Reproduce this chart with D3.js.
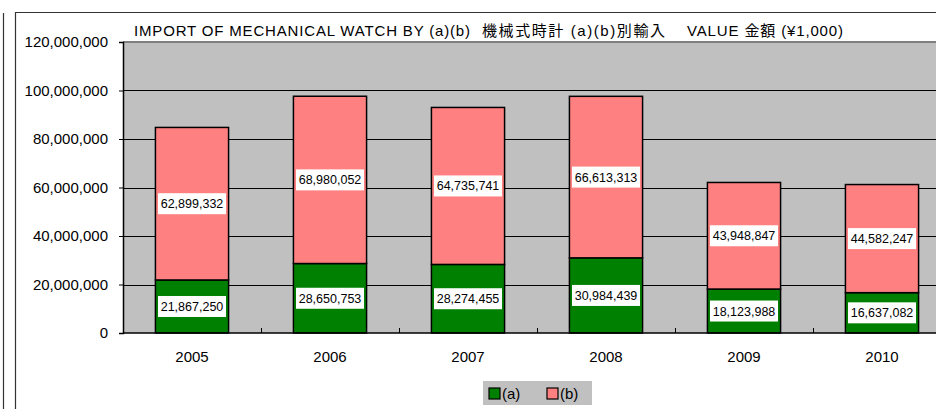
<!DOCTYPE html>
<html>
<head>
<meta charset="utf-8">
<script src="https://cdn.jsdelivr.net/npm/d3@7"></script>
<style>
  body { margin: 0; background: #fff; }
  svg { display: block; }
  text { font-family: 'Liberation Sans', Arial, 'Noto Sans CJK JP', sans-serif; fill: #000; }
</style>
</head>
<body>
<div id="chart"></div>
<script>
// data
var years = ['2005', '2006', '2007', '2008', '2009', '2010']
var valuesA = [21867250, 28650753, 28274455, 30984439, 18123988, 16637082]
var valuesB = [62899332, 68980052, 64735741, 66613313, 43948847, 44582247]
var yTicks = [0, 20000000, 40000000, 60000000, 80000000, 100000000, 120000000]
var seriesNames = ['(a)', '(b)']
var titleParts = ['IMPORT OF MECHANICAL WATCH BY (a)(b)', '機械式時計 (a)(b)別輸入', 'VALUE 金額 (¥1,000)']

var fullW = 936
var fullH = 409
var margin = { top: 42, left: 123, right: -15, bottom: 76 }
var width = fullW - margin.left - margin.right
var height = fullH - margin.top - margin.bottom

var colors = { '(a)': '#008000', '(b)': '#ff8080' }

var svg = d3.select('#chart')
  .append('svg')
  .attr('width', fullW)
  .attr('height', fullH)

// outer frames
svg.append('line')
  .attr('x1', 3.5).attr('x2', 3.5).attr('y1', 13).attr('y2', fullH)
  .attr('stroke', '#333').attr('stroke-width', 1.2)
svg.append('path')
  .attr('d', 'M15.5,' + fullH + 'V12.5H' + fullW)
  .attr('fill', 'none').attr('stroke', '#333').attr('stroke-width', 1.2)

var g = svg.append('g')
  .attr('transform', 'translate(' + margin.left + ',' + margin.top + ')')

var xPositionScale = d3.scaleBand()
  .domain(years)
  .range([0, width])
  .paddingInner(0.47)
  .paddingOuter(0.235)

var yPositionScale = d3.scaleLinear()
  .domain([0, 120000000])
  .range([height, 0])

// plot background
g.append('rect')
  .attr('x', 0).attr('y', 0)
  .attr('width', width).attr('height', height)
  .attr('fill', '#c0c0c0')

// top border of plot area
g.append('line')
  .attr('x1', 0).attr('x2', width).attr('y1', 0).attr('y2', 0)
  .attr('stroke', '#808080').attr('stroke-width', 2)

// gridlines
g.selectAll('.grid')
  .data(yTicks.filter(d => d > 0 && d < 120000000))
  .enter()
  .append('line')
  .attr('class', 'grid')
  .attr('x1', 0).attr('x2', width)
  .attr('y1', d => Math.round(yPositionScale(d)) + 0.5)
  .attr('y2', d => Math.round(yPositionScale(d)) + 0.5)
  .attr('stroke', '#000').attr('stroke-width', 1)

// stacked data
var stacked = years.map(function (y, i) {
  return { year: y, a: valuesA[i], b: valuesB[i] }
})
var stack = d3.stack().keys(['a', 'b'])(stacked)

var layers = g.selectAll('.layer')
  .data(stack)
  .enter()
  .append('g')
  .attr('class', 'layer')
  .attr('fill', (d, i) => colors[seriesNames[i]])

layers.selectAll('rect')
  .data(d => d)
  .enter()
  .append('rect')
  .attr('x', d => xPositionScale(d.data.year))
  .attr('width', xPositionScale.bandwidth())
  .attr('y', d => yPositionScale(d[1]))
  .attr('height', d => yPositionScale(d[0]) - yPositionScale(d[1]))
  .attr('stroke', '#000')
  .attr('stroke-width', 1.5)

// y axis
var yAxis = d3.axisLeft(yPositionScale)
  .tickValues(yTicks)
  .tickSize(4)
  .tickPadding(11)
  .tickFormat(d3.format(','))
var yAxisG = g.append('g').attr('class', 'axis y-axis').call(yAxis)
yAxisG.select('.domain').attr('stroke', '#000').attr('stroke-width', 1.5)
yAxisG.selectAll('text').attr('font-size', 15).attr('fill', '#000')

// x axis with inside ticks at category boundaries
var xAxisG = g.append('g')
  .attr('class', 'axis x-axis')
  .attr('transform', 'translate(0,' + height + ')')
xAxisG.append('line')
  .attr('x1', 0).attr('x2', width).attr('y1', 0).attr('y2', 0)
  .attr('stroke', '#000').attr('stroke-width', 1.5)
xAxisG.selectAll('.bound')
  .data(years.slice(1))
  .enter()
  .append('line')
  .attr('class', 'bound')
  .attr('x1', d => Math.round(xPositionScale(d) - xPositionScale.step() * xPositionScale.paddingInner() / 2) + 0.5)
  .attr('x2', d => Math.round(xPositionScale(d) - xPositionScale.step() * xPositionScale.paddingInner() / 2) + 0.5)
  .attr('y1', 0).attr('y2', -5)
  .attr('stroke', '#000')
xAxisG.selectAll('.xlabel')
  .data(years)
  .enter()
  .append('text')
  .attr('class', 'xlabel')
  .attr('x', d => xPositionScale(d) + xPositionScale.bandwidth() / 2)
  .attr('y', 29)
  .attr('text-anchor', 'middle')
  .attr('font-size', 15)
  .text(d => d)

// data labels
var labels = []
stack.forEach(function (layer) {
  layer.forEach(function (d) {
    labels.push({ year: d.data.year, mid: (d[0] + d[1]) / 2, v: d[1] - d[0] })
  })
})
var lab = g.selectAll('.dlabel')
  .data(labels)
  .enter()
  .append('g')
  .attr('class', 'dlabel')
  .attr('transform', d => 'translate(' + (xPositionScale(d.year) + xPositionScale.bandwidth() / 2) + ',' + yPositionScale(d.mid) + ')')
lab.append('rect')
  .attr('x', -34).attr('y', -10.5)
  .attr('width', 68).attr('height', 21)
  .attr('fill', '#fff')
lab.append('text')
  .attr('text-anchor', 'middle')
  .attr('y', 4.5)
  .attr('font-size', 12.5)
  .text(d => d3.format(',')(d.v))

// title, in three pieces (the original font is wide)
var titleX = [134, 482, 687]
var titleLen = [336, 183, 156]
svg.selectAll('.title')
  .data(titleParts)
  .enter()
  .append('text')
  .attr('class', 'title')
  .attr('x', (d, i) => titleX[i])
  .attr('y', 36)
  .attr('font-size', 15)
  .attr('textLength', (d, i) => titleLen[i])
  .attr('lengthAdjust', 'spacing')
  .text(d => d)

// legend
var legend = svg.append('g').attr('transform', 'translate(483,381)')
legend.append('rect')
  .attr('width', 109).attr('height', 24)
  .attr('fill', '#c0c0c0')
var items = legend.selectAll('.item')
  .data(seriesNames)
  .enter()
  .append('g')
  .attr('class', 'item')
  .attr('transform', (d, i) => 'translate(' + (6 + i * 58) + ',7)')
items.append('rect')
  .attr('width', 11).attr('height', 11)
  .attr('fill', d => colors[d])
  .attr('stroke', '#000').attr('stroke-width', 1.2)
items.append('text')
  .attr('x', 13).attr('y', 11)
  .attr('font-size', 15)
  .text(d => d)
</script>
</body>
</html>
